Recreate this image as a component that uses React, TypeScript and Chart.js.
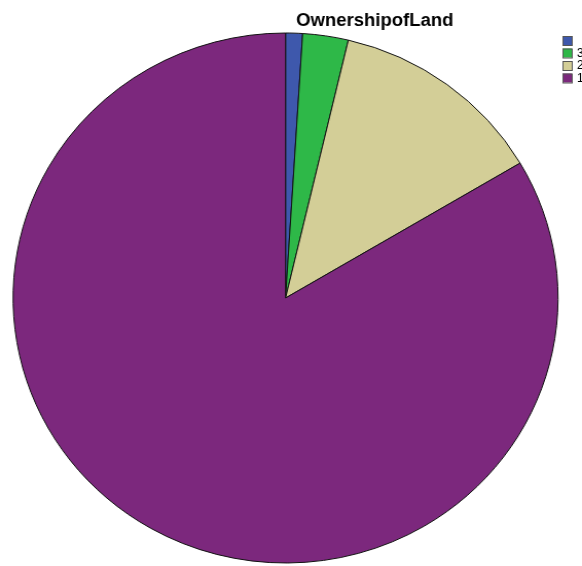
import React, { useEffect, useRef } from "react";
import { Chart, registerables } from "chart.js";

Chart.register(...registerables);

const titleText = "OwnershipofLand";
const categories = ["", "3", "2", "1"];
const percents = [1.0, 2.7, 12.8, 83.5];
const colors = ["#3E58AC", "#2EB848", "#D3CE97", "#7C287D"];

const overlayPlugin = {
  id: "overlay",
  afterDraw(chart: any) {
    const ctx = chart.ctx;
    ctx.save();
    ctx.fillStyle = "#000";
    ctx.font = "bold 18px 'Liberation Sans', Arial, sans-serif";
    ctx.textAlign = "center";
    ctx.textBaseline = "alphabetic";
    ctx.fillText(titleText, 364.5, 26);
    const labels = chart.data.labels as string[];
    const bg = chart.data.datasets[0].backgroundColor as string[];
    ctx.font = "12px 'Liberation Sans', Arial, sans-serif";
    ctx.textAlign = "left";
    ctx.textBaseline = "middle";
    labels.forEach((lab, i) => {
      const y = 36 + i * 12.5;
      ctx.fillStyle = bg[i];
      ctx.fillRect(547, y, 9, 9);
      ctx.strokeStyle = "#555";
      ctx.lineWidth = 1;
      ctx.strokeRect(547.5, y + 0.5, 9, 9);
      ctx.fillStyle = "#000";
      ctx.fillText(lab, 561, y + 5);
    });
    ctx.restore();
  },
};

export default function App() {
  const ref = useRef<HTMLCanvasElement>(null);
  useEffect(() => {
    if (!ref.current) return;
    const chart = new Chart(ref.current, {
      type: "pie",
      data: {
        labels: categories,
        datasets: [
          {
            data: percents,
            backgroundColor: colors,
            borderColor: "#111",
            borderWidth: 1,
          },
        ],
      },
      options: {
        animation: false,
        responsive: false,
        devicePixelRatio: 1,
        layout: { padding: { left: 12.2, top: 32.5, right: 22.8, bottom: 2.5 } },
        plugins: {
          legend: { display: false },
          title: { display: false },
          tooltip: { enabled: false },
        },
      },
      plugins: [overlayPlugin],
    });
    return () => chart.destroy();
  }, []);
  return (
    <div style={{ position: "fixed", left: 0, top: 0, width: 582, height: 566, background: "#fff" }}>
      <canvas
        ref={ref}
        width={566}
        height={566}
        style={{ width: "582px", height: "566px", display: "block" }}
      />
    </div>
  );
}
